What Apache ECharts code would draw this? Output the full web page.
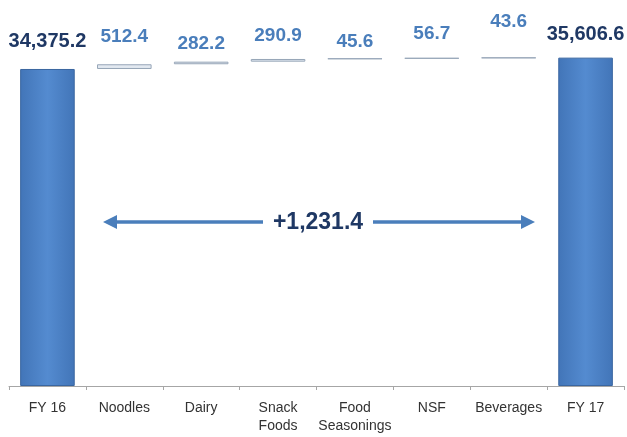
<!DOCTYPE html>
<html><head><meta charset="utf-8">
<script src="https://cdn.jsdelivr.net/npm/echarts@6/dist/echarts.min.js"></script>
<style>html,body{margin:0;padding:0;background:#fff}#c{width:627px;height:437px}</style>
</head><body><div id="c"></div>
<script>
const categories = ['FY 16','Noodles','Dairy','Snack\nFoods','Food\nSeasonings','NSF','Beverages','FY 17'];
const startValue = 34375.2;
const increments = [512.4, 282.2, 290.9, 45.6, 56.7, 43.6];
const endValue = 35606.6;

// label vertical shifts (px) to mimic the reference layout
const incLabelShift = [-4, 6, 0, 7, -1, -12];
const totalLabelShift = [1, 5];

const n = categories.length;
const base = [], totals = [], incs = [];
let run = startValue;
for (let i = 0; i < n; i++) {
  if (i === 0) { base.push(0); totals.push({value: startValue, label: {offset: [0, totalLabelShift[0]]}}); incs.push('-'); }
  else if (i === n - 1) { base.push(0); totals.push({value: endValue, label: {offset: [0, totalLabelShift[1]]}}); incs.push('-'); }
  else {
    base.push(run);
    incs.push({value: increments[i-1], label: {offset: [0, incLabelShift[i-1]]}});
    totals.push('-');
    run += increments[i-1];
  }
}
const totalChange = increments.reduce((a,b)=>a+b,0);
const fmt = v => v.toLocaleString('en-US',{minimumFractionDigits:1, maximumFractionDigits:1});

const chart = echarts.init(document.getElementById('c'));
const font = '"Liberation Sans", Arial, sans-serif';
chart.setOption({
  animation: false,
  grid: {left: 9, right: 3, top: 54, bottom: 51},
  xAxis: {
    type: 'category', data: categories,
    axisLine: {lineStyle: {color: '#a6a6a6'}},
    axisTick: {show: true, length: 4, lineStyle: {color: '#a6a6a6'}},
    axisLabel: {interval: 0, color: '#333', fontFamily: font, fontSize: 14, lineHeight: 18, margin: 13}
  },
  yAxis: {type: 'value', min: 0, max: 36000, show: false, splitLine: {show: false}},
  series: [
    {type: 'bar', stack: 'w', data: base, barWidth: '71%', itemStyle: {color: 'transparent'}, silent: true},
    {type: 'bar', stack: 'w', data: incs, barWidth: '71%',
      itemStyle: {color: '#e3e9f1', borderColor: '#97a6b8', borderWidth: 1},
      label: {show: true, position: 'top', distance: 14, color: '#4a7ebb', fontFamily: font, fontSize: 19, fontWeight: 'bold',
        formatter: p => fmt(p.value)}},
    {type: 'bar', stack: 'w', data: totals, barWidth: '71%',
      itemStyle: {color: new echarts.graphic.LinearGradient(0,0,1,0,[
        {offset:0,color:'#4275b8'},{offset:0.5,color:'#548bd0'},{offset:1,color:'#4275b8'}]),
        borderColor: '#3a66a0', borderWidth: 1},
      label: {show: true, position: 'top', distance: 18, color: '#1f3864', fontFamily: font, fontSize: 20, fontWeight: 'bold',
        formatter: p => fmt(p.value)}}
  ]
});

// Annotation arrow showing total change
const y = 222, c = '#4a7ebb';
chart.setOption({
  graphic: [
    {type: 'line', shape: {x1: 112, y1: y, x2: 263, y2: y}, style: {stroke: c, lineWidth: 3.5}},
    {type: 'polygon', shape: {points: [[103, y], [117, y-7], [117, y+7]]}, style: {fill: c}},
    {type: 'line', shape: {x1: 373, y1: y, x2: 526, y2: y}, style: {stroke: c, lineWidth: 3.5}},
    {type: 'polygon', shape: {points: [[535, y], [521, y-7], [521, y+7]]}, style: {fill: c}},
    {type: 'text', x: 318, y: y + 1, style: {text: '+' + fmt(totalChange), fill: '#1f3864', font: 'bold 23px ' + font, textAlign: 'center', textVerticalAlign: 'middle'}}
  ]
});
</script></body></html>
